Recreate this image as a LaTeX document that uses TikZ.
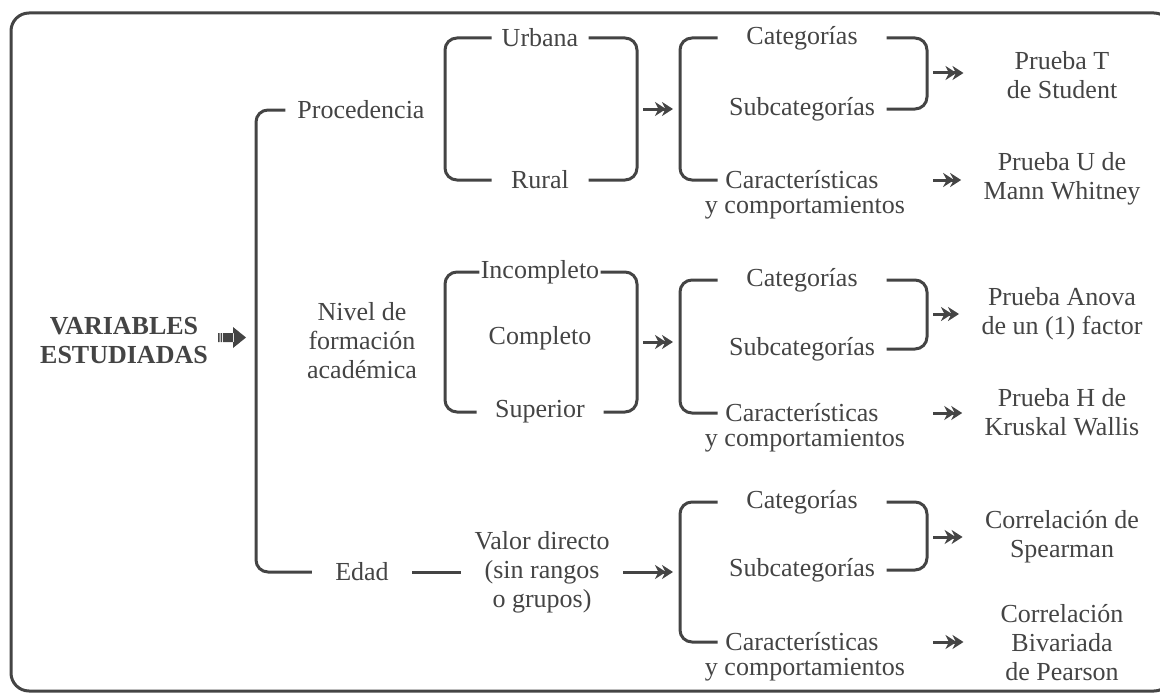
\documentclass[tikz,border=0pt]{standalone}
\usepackage{fontspec}
\setmainfont{Liberation Serif}
\usetikzlibrary{arrows.meta}
\definecolor{ink}{HTML}{444444}

\begin{document}
\begin{tikzpicture}[x=1pt,y=-1pt,line width=3pt,draw=ink,
    dbl/.style={-{Stealth[length=11pt,width=14pt,inset=3.5pt,sep=-4pt]Stealth[length=11pt,width=14pt,inset=3.5pt]},shorten <=6pt},
    brk/.style={rounded corners=12pt}]
    \tikzstyle{every node}=[text=ink,font=\fontsize{26}{29}\selectfont,align=center,inner sep=0pt]
    \tikzstyle{col}=[minimum width=166pt]
    \tikzstyle{test}=[minimum width=152pt]
    \useasboundingbox (0,0) rectangle (1160,693);
    \draw[ink,rounded corners=18pt] (11,13) rectangle (1172,691);

    % left side
    \node (title) at (124,341) {\textbf{VARIABLES}\\\textbf{ESTUDIADAS}};
    \fill[ink] (218,333) rectangle (219.5,342)
               (220.5,333) rectangle (222,342)
               (223,333) rectangle (234,342)
               (233,327) -- (246,337.5) -- (233,348) -- cycle;
    \coordinate (spine) at (256,341);
    \node[inner xsep=10.5pt] (proc)  at (361,110) {Procedencia};
    \node                    (nivel) at (362,341) {Nivel de\\formación\\académica};
    \node[inner xsep=22pt]   (edad)  at (362,572) {Edad};
    \node[inner xsep=12pt]   (valor) at (542,572) {Valor directo\\(sin rangos\\o grupos)};
    \draw[ink,brk] (proc.west) -| (spine) |- (edad.west);
    \draw[ink] (edad.east) -- (valor.west);

    % procedencia
    \node[minimum width=94pt] (urb) at (540,38)  {Urbana};
    \node[minimum width=94pt] (rur) at (540,180) {Rural};
    \coordinate (p1) at (445,109);
    \coordinate (p2) at (637,109);
    \coordinate (g1) at (680,109);
    \draw[ink,brk] (urb.west) -| (p1) |- (rur.west);
    \draw[ink,brk] (urb.east) -| (p2) |- (rur.east);
    \draw[ink,dbl,shorten >=7pt] (p2) -- (g1);
    \node[col] (cat1) at (802,38)  {Categorías};
    \node[col] (sub1) at (802,109) {Subcategorías};
    \node[col] (car1) at (802,180) {Características};
    \node      (cmp1) at (805,208) {y comportamientos};
    \coordinate (s1) at (927,73);
    \draw[ink,brk] (cat1.west) -| (g1) |- (car1.west);
    \draw[ink,brk] (cat1.east) -| (s1) |- (sub1.east);
    \node[test] (tt) at (1062,75)  {Prueba T\\de Student};
    \node[test] (tu) at (1062,179) {Prueba U de\\Mann Whitney};
    \draw[ink,dbl,shorten >=21pt] (s1) -- (s1 -| tt.west);
    \draw[ink,dbl,shorten >=21pt] (car1.east -| s1) -- (car1.east -| tu.west);

    % nivel de formacion
    \node                      (inc) at (540,272) {Incompleto};
    \node                      (com) at (540,338) {Completo};
    \node[minimum width=124pt] (sup) at (540,412) {Superior};
    \coordinate (q1) at (445,342);
    \coordinate (q2) at (637,342);
    \coordinate (g2) at (680,342);
    \draw[ink,brk] (inc.west) -| (q1) |- (sup.west);
    \draw[ink,brk] (inc.east) -| (q2) |- (sup.east);
    \draw[ink,dbl,shorten >=7pt] (q2) -- (g2);
    \node[col] (cat2) at (802,280) {Categorías};
    \node[col] (sub2) at (802,349) {Subcategorías};
    \node[col] (car2) at (802,413) {Características};
    \node      (cmp2) at (805,441) {y comportamientos};
    \coordinate (s2) at (927,314);
    \draw[ink,brk] (cat2.west) -| (g2) |- (car2.west);
    \draw[ink,brk] (cat2.east) -| (s2) |- (sub2.east);
    \node[test] (ta) at (1062,314) {Prueba Anova\\de un (1) factor};
    \node[test] (th) at (1062,412) {Prueba H de\\Kruskal Wallis};
    \draw[ink,dbl,shorten >=21pt] (s2) -- (s2 -| ta.west);
    \draw[ink,dbl,shorten >=21pt] (car2.east -| s2) -- (car2.east -| th.west);

    % edad
    \node[col] (cat3) at (802,502) {Categorías};
    \node[col] (sub3) at (802,570) {Subcategorías};
    \node[col] (car3) at (802,642) {Características};
    \node      (cmp3) at (805,670) {y comportamientos};
    \coordinate (g3) at (680,572);
    \coordinate (s3) at (927,537);
    \draw[ink,dbl,shorten <=0pt,shorten >=7pt] (valor.east) -- (valor.east -| g3);
    \draw[ink,brk] (cat3.west) -| (g3) |- (car3.west);
    \draw[ink,brk] (cat3.east) -| (s3) |- (sub3.east);
    \node[test] (tsp) at (1062,537) {Correlación de\\Spearman};
    \node[test] (tpe) at (1062,643) {Correlación\\Bivariada\\de Pearson};
    \draw[ink,dbl,shorten >=21pt] (s3) -- (s3 -| tsp.west);
    \draw[ink,dbl,shorten >=21pt] (car3.east -| s3) -- (car3.east -| tpe.west);
\end{tikzpicture}
\end{document}
